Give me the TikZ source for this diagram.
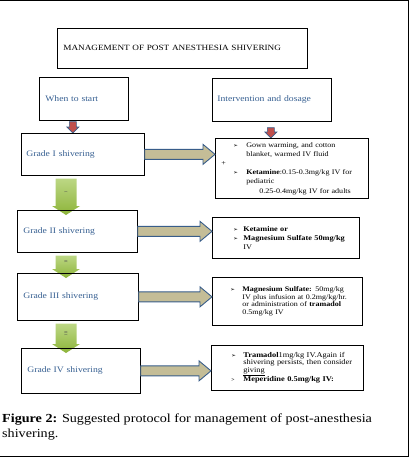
\documentclass[tikz,border=0pt]{standalone}
\usepackage{fontspec}
\setmainfont{Liberation Serif}
\newfontfamily\boxfont[FakeStretch=1.15]{Liberation Serif}
\newfontfamily\bulletfont{DejaVu Sans}
\usetikzlibrary{calc,backgrounds}
\definecolor{headblue}{HTML}{365F91}
\definecolor{edgeblue}{HTML}{385D8A}
\definecolor{tanfill}{HTML}{C4BD97}
\definecolor{redfill}{HTML}{C0504D}
\definecolor{greentop}{HTML}{BCD784}
\definecolor{greenbot}{HTML}{8DB43A}
\newcommand{\bul}{{\bulletfont\fontsize{5.5}{6}\selectfont ➢}}
% fat tan arrow from a grade box to its dosage box
\newcommand{\fatarrow}[2]{%
  \path let \p1=(#1.east), \p2=(#2.west) in
    [fill=tanfill, draw=edgeblue, line width=0.9pt]
    (\x1,\y1+5) -- (\x2-12,\y1+5) -- (\x2-12,\y1+10) -- (\x2,\y1)
    -- (\x2-12,\y1-10) -- (\x2-12,\y1-5) -- (\x1,\y1-5) -- cycle;}
% green arrow between two grade boxes
\newcommand{\greenarrow}[3]{%
  \path let \p1=(#1.south), \p2=(#2.north) in
    [top color=greentop, bottom color=greenbot]
    (\gx-10.5,\y1-3) -- (\gx+10.5,\y1-3) -- (\gx+10.5,\y2-\gt+\gh) -- (\gx+14,\y2-\gt+\gh)
    -- (\gx,\y2-\gt) -- (\gx-14,\y2-\gt+\gh) -- (\gx-10.5,\y2-\gt+\gh) -- cycle;
  \path let \p1=(#1.south), \p2=(#2.north) in
    node[rotate=-90, font=\fontsize{4}{4}\selectfont, text=black!70] at (\gx,{(\y1+\y2)/2+1}) {#3};}
% small red arrow below a header box
\newcommand{\redarrow}[4]{%
  \path let \p1=(#1.south), \p2=(#2.north) in
    [fill=redfill, draw=edgeblue, line width=0.6pt]
    (\x1+#3-3.5,\y1-#4) -- (\x1+#3+3.5,\y1-#4) -- (\x1+#3+3.5,\y2+6) -- (\x1+#3+6,\y2+6)
    -- (\x1+#3,\y2) -- (\x1+#3-6,\y2+6) -- (\x1+#3-3.5,\y2+6) -- cycle;}
\begin{document}
\begin{tikzpicture}[x=1pt, y=-1pt,
    box/.style={draw, line width=0.7pt, anchor=north west, inner ysep=0pt, align=left},
    head/.style={box, text=headblue, font=\boxfont\fontsize{8.4}{9}\selectfont},
    dose/.style={box, inner xsep=2pt, font=\boxfont\fontsize{7}{9.2}\selectfont}]
  \useasboundingbox (0,0) rectangle (411,460);
  \def\gx{66pt}\def\gh{9pt}\def\gt{5pt}
  % header boxes
  \node[box, font=\boxfont\fontsize{8}{9}\selectfont, inner xsep=6pt, text width=238pt, minimum height=40pt] (title) at (57,28) {MANAGEMENT OF POST ANESTHESIA SHIVERING};
  \node[head, inner xsep=6pt, text width=77pt, minimum height=43pt] (when) at (39,77) {When to start};
  \node[head, inner xsep=5pt, text width=109pt, minimum height=43pt] (interv) at (212,78) {Intervention and dosage};
  % grades
  \node[head, inner xsep=5pt, text width=113pt, minimum height=42pt] (g1) at (21,133) {Grade I shivering};
  \node[head, inner xsep=6pt, text width=108pt, minimum height=42pt] (g2) at (17,210) {Grade II shivering};
  \node[head, inner xsep=6pt, text width=109pt, minimum height=47pt] (g3) at (17,273) {Grade III shivering};
  \node[head, inner xsep=6pt, text width=107pt, minimum height=45pt] (g4) at (21,348) {Grade IV shivering};
  % dosages
  \node[dose, text width=149pt, minimum height=60pt] (d1) at (215,138) {%
    \hspace*{16pt}\makebox[13pt][l]{\bul}Gown warming, and cotton\\
    \hspace*{29pt}blanket, warmed IV fluid\\
    \hspace*{4pt}+\\
    \hspace*{16pt}\makebox[13pt][l]{\bul}\textbf{Ketamine}:0.15-0.3mg/kg IV for\\
    \hspace*{29pt}pediatric\\
    \hspace*{42pt}0.25-0.4mg/kg IV for adults};
  \node[dose, font=\boxfont\fontsize{7.2}{9}\selectfont, text width=143pt, minimum height=41pt] (d2) at (212,217) {%
    \hspace*{19pt}\makebox[10pt][l]{\bul}\textbf{Ketamine or}\\
    \hspace*{19pt}\makebox[10pt][l]{\bul}\textbf{Magnesium Sulfate 50mg/kg}\\
    \hspace*{29pt}IV};
  \node[dose, font=\boxfont\fontsize{7}{7.7}\selectfont, text width=146pt, minimum height=48pt] (d3) at (212,277) {%
    \hspace*{16pt}\makebox[12pt][l]{\bul}\textbf{Magnesium Sulfate:} 50mg/kg\\
    \hspace*{28pt}IV plus infusion at 0.2mg/kg/hr.\\
    \hspace*{28pt}or administration of \textbf{tramadol}\\
    \hspace*{28pt}0.5mg/kg IV};
  \node[dose, font=\boxfont\fontsize{7.3}{7.4}\selectfont, text width=148pt, minimum height=45pt] (d4) at (211,345) {%
    \hspace*{18pt}\makebox[12pt][l]{\bul}\textbf{Tramadol}1mg/kg IV.Again if\\
    \hspace*{30pt}shivering persists, then consider\\
    \hspace*{30pt}\underline{giving}\\
    \hspace*{18pt}\makebox[12pt][l]{\fontsize{5}{5}\selectfont\textbf{>}}\textbf{Meperidine 0.5mg/kg IV:}};
  % caption
  \node[anchor=north west, inner sep=0pt, align=left, font=\boxfont\fontsize{12.3}{15}\selectfont] (cap) at (2,414) {%
    \textbf{Figure 2:} Suggested protocol for management of post-anesthesia\\shivering.};
  % arrows
  \begin{scope}[on background layer]
    \redarrow{when}{g1}{-11}{1}
    \redarrow{interv}{d1}{-1}{6}
    \greenarrow{g1}{g2}{I}
    \greenarrow{g2}{g3}{II}
    \greenarrow{g3}{g4}{III}
  \end{scope}
  \fatarrow{g1}{d1}
  \fatarrow{g2}{d2}
  \fatarrow{g3}{d3}
  \fatarrow{g4}{d4}
  % frame
  \draw[line width=1pt] (0,1) -- (408,1) -- (408,456) -- (0,456);
\end{tikzpicture}
\end{document}
